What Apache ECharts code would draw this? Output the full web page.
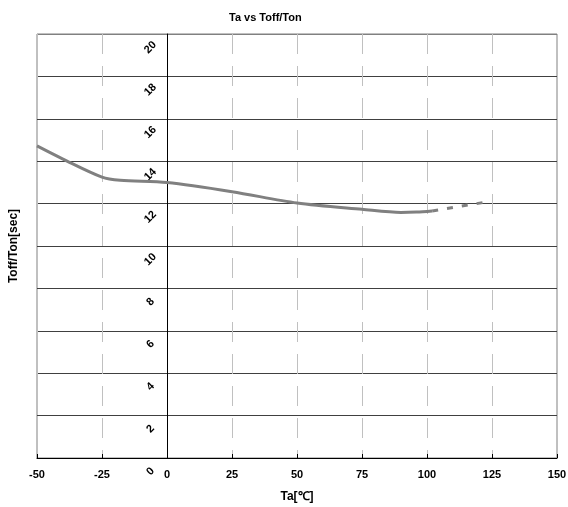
<!DOCTYPE html>
<html>
<head>
<meta charset="utf-8">
<script src="https://cdn.jsdelivr.net/npm/echarts@6/dist/echarts.min.js"></script>
<style>html,body{margin:0;padding:0;background:#fff;}#c{width:568px;height:507px;}</style>
</head>
<body>
<div id="c"></div>
<script>
const titleText = 'Ta vs Toff/Ton';
const xName = 'Ta[℃]';
const yName = 'Toff/Ton[sec]';
const xTicks = [-50, -25, 0, 25, 50, 75, 100, 125, 150];
const yTicks = [0, 2, 4, 6, 8, 10, 12, 14, 16, 18, 20];
const solidTa = [-50, -40, -25, -18, 0, 25, 50, 75, 90, 96, 102];
const solidVal = [14.72, 14.1, 13.25, 13.1, 12.99, 12.56, 12.03, 11.73, 11.58, 11.6, 11.65];
const dashTa = [102, 123];
const dashVal = [11.65, 12.08];

const font = 'Liberation Sans, Arial, sans-serif';
const gridColors = yTicks.map((v, i) => i === yTicks.length - 1 ? '#808080' : '#404040');
const chart = echarts.init(document.getElementById('c'), null, {renderer: 'canvas'});
chart.setOption({
  animation: false,
  title: {text: titleText, left: 224, top: 7,
    textStyle: {fontSize: 11, fontWeight: 'bold', color: '#000', fontFamily: font}},
  grid: {left: 37, right: 11, top: 34, bottom: 49, show: true, containLabel: false,
    outerBoundsMode: 'none',
    borderColor: '#808080', borderWidth: 1, backgroundColor: 'transparent'},
  xAxis: {
    type: 'value', min: xTicks[0], max: xTicks[xTicks.length - 1], interval: 25,
    name: xName, nameLocation: 'middle', nameGap: 33,
    nameTextStyle: {fontSize: 12, fontWeight: 'bold', color: '#000', fontFamily: font},
    axisLine: {show: true, onZero: false, lineStyle: {color: '#000', width: 1}},
    axisTick: {show: true, inside: true, length: 4, lineStyle: {color: '#000'}},
    axisLabel: {fontSize: 11, fontWeight: 'bold', color: '#000', fontFamily: font, margin: 11,
      showMinLabel: true, showMaxLabel: true},
    splitLine: {show: true, lineStyle: {color: '#c0c0c0', width: 1, type: [20, 12]}}
  },
  yAxis: {
    type: 'value', min: yTicks[0], max: yTicks[yTicks.length - 1], interval: 2,
    position: 'left', offset: -130,
    name: yName, nameLocation: 'middle', nameGap: 147, nameRotate: 90,
    nameTextStyle: {fontSize: 12, fontWeight: 'bold', color: '#000', fontFamily: font},
    axisLine: {show: true, onZero: false, lineStyle: {color: '#000', width: 1}},
    axisTick: {show: false},
    axisLabel: {fontSize: 11, fontWeight: 'bold', color: '#000', fontFamily: font,
      rotate: 45, margin: 30, align: 'center', verticalAlign: 'top', lineHeight: 38,
      showMinLabel: true, showMaxLabel: true, hideOverlap: false},
    splitLine: {show: true, lineStyle: {color: gridColors, width: 1}}
  },
  series: [
    {type: 'line', data: solidTa.map((t, i) => [t, solidVal[i]]), smooth: 0.3,
      showSymbol: false, symbol: 'none',
      lineStyle: {color: '#808080', width: 3, type: 'solid'}},
    {type: 'line', data: dashTa.map((t, i) => [t, dashVal[i]]),
      showSymbol: false, symbol: 'none',
      lineStyle: {color: '#808080', width: 3, type: [6, 9]}}
  ]
});
</script>
</body>
</html>
